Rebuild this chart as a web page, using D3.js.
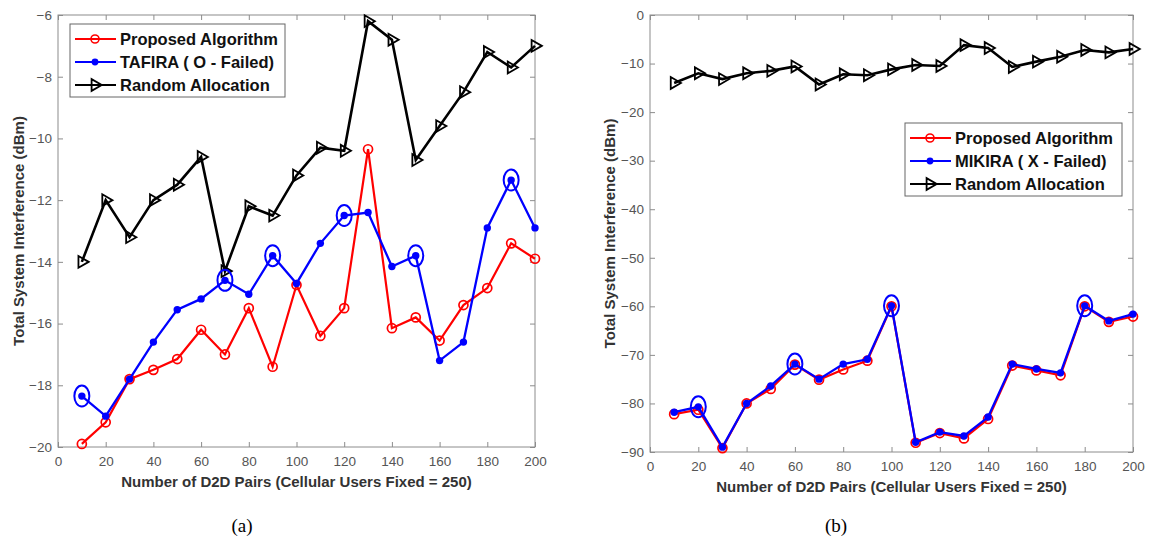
<!DOCTYPE html>
<html>
<head>
<meta charset="utf-8">
<script src="https://cdn.jsdelivr.net/npm/d3@7"></script>
<style>
  body { margin: 0; background: #fff; }
  text { font-family: "Liberation Sans", Arial, sans-serif; }
</style>
</head>
<body>
<script>
// x values shared by both panels
const d2dPairs = [10, 20, 30, 40, 50, 60, 70, 80, 90, 100, 110, 120, 130, 140, 150, 160, 170, 180, 190, 200];

// panel (a)
const proposedA = [-19.9, -19.2, -17.8, -17.5, -17.15, -16.2, -17.0, -15.5, -17.4, -14.75, -16.4, -15.5, -10.35, -16.15, -15.8, -16.55, -15.4, -14.85, -13.4, -13.9];
const tafira = [-18.35, -19.0, -17.8, -16.6, -15.55, -15.2, -14.6, -15.05, -13.8, -14.7, -13.4, -12.5, -12.4, -14.15, -13.8, -17.2, -16.6, -12.9, -11.35, -12.9];
const tafiraFailed = [10, 70, 90, 120, 150, 190];
const randomA = [-14.0, -12.0, -13.2, -12.0, -11.5, -10.6, -14.3, -12.2, -12.5, -11.2, -10.3, -10.4, -6.2, -6.8, -10.7, -9.6, -8.5, -7.2, -7.7, -7.0];
const yTicksA = [-20, -18, -16, -14, -12, -10, -8, -6];

// panel (b)
const proposedB = [-82.2, -81.3, -89.2, -80.0, -77.0, -72.0, -75.1, -73.0, -71.2, -60.0, -88.1, -86.1, -87.2, -83.2, -72.2, -73.2, -74.2, -60.0, -63.2, -62.1];
const mikira = [-81.8, -80.7, -89.0, -80.0, -76.4, -71.9, -75.0, -71.9, -70.9, -59.9, -88.0, -85.9, -86.7, -82.8, -71.9, -72.9, -73.7, -59.9, -63.0, -61.6];
const mikiraFailed = [20, 60, 100, 180];
const randomB = [-14.0, -12.0, -13.2, -12.0, -11.5, -10.6, -14.3, -12.2, -12.4, -11.2, -10.3, -10.5, -6.2, -6.8, -10.7, -9.6, -8.6, -7.2, -7.7, -7.0];
const yTicksB = [-90, -80, -70, -60, -50, -40, -30, -20, -10, 0];

const xTicks = [0, 20, 40, 60, 80, 100, 120, 140, 160, 180, 200];

const W = 1149, H = 537;
const svg = d3.select("body").append("svg")
    .attr("width", W)
    .attr("height", H);

const RED = "#ff0000", BLUE = "#0000ff", BLACK = "#000000";

function drawPanel(p) {
    const x = d3.scaleLinear().domain([0, 200]).range([p.left, p.right]);
    const y = d3.scaleLinear().domain(p.yDomain).range([p.bottom, p.top]);
    const g = svg.append("g");

    // box with inward ticks (matlab style)
    const tickLen = 5;
    const axisColor = "#8c8c8c";
    g.append("rect")
        .attr("x", p.left).attr("y", p.top)
        .attr("width", p.right - p.left).attr("height", p.bottom - p.top)
        .attr("fill", "none").attr("stroke", axisColor).attr("stroke-width", 1);

    const bottomAxis = d3.axisBottom(x).tickValues(xTicks).tickSizeInner(-tickLen).tickSizeOuter(0).tickPadding(9);
    const topAxis = d3.axisTop(x).tickValues(xTicks).tickSizeInner(-tickLen).tickSizeOuter(0).tickFormat("");
    const leftAxis = d3.axisLeft(y).tickValues(p.yTicks).tickSizeInner(-tickLen).tickSizeOuter(0).tickPadding(6);
    const rightAxis = d3.axisRight(y).tickValues(p.yTicks).tickSizeInner(-tickLen).tickSizeOuter(0).tickFormat("");

    const axes = [
        [bottomAxis, `translate(0,${p.bottom})`],
        [topAxis, `translate(0,${p.top})`],
        [leftAxis, `translate(${p.left},0)`],
        [rightAxis, `translate(${p.right},0)`]
    ];
    axes.forEach(([ax, tr]) => {
        const a = g.append("g").attr("transform", tr).call(ax);
        a.select(".domain").remove();
        a.selectAll(".tick line").attr("stroke", axisColor);
        a.selectAll(".tick text")
            .attr("fill", "#555")
            .style("font-size", "13.5px")
            .style("font-family", "Liberation Sans, Arial, sans-serif");
    });

    // axis labels
    g.append("text")
        .attr("x", (p.left + p.right) / 2)
        .attr("y", p.xLabelY)
        .attr("text-anchor", "middle")
        .attr("fill", "#333")
        .style("font-size", "15px")
        .style("font-weight", "bold")
        .text("Number of D2D Pairs (Cellular Users Fixed = 250)");
    g.append("text")
        .attr("transform", `translate(${p.yLabelX},${(p.top + p.bottom) / 2}) rotate(-90)`)
        .attr("text-anchor", "middle")
        .attr("fill", "#333")
        .style("font-size", "15px")
        .style("font-weight", "bold")
        .text("Total System Interference (dBm)");

    // caption
    g.append("text")
        .attr("x", p.captionX).attr("y", 532)
        .attr("text-anchor", "middle")
        .attr("fill", "#000")
        .style("font-family", "Liberation Serif, Times New Roman, serif")
        .style("font-size", "19px")
        .text(p.caption);

    const line = d3.line().x((d, i) => x(d2dPairs[i])).y(d => y(d));
    const tri = d3.symbol().type(d3.symbolTriangle).size(60);

    // random allocation
    g.append("path").datum(p.random)
        .attr("d", line).attr("fill", "none")
        .attr("stroke", BLACK).attr("stroke-width", 2.6);
    g.selectAll(".tri").data(p.random).enter().append("path")
        .attr("d", tri)
        .attr("transform", (d, i) => `translate(${x(d2dPairs[i])},${y(d)}) rotate(90)`)
        .attr("fill", "none").attr("stroke", BLACK).attr("stroke-width", 1.8);

    // proposed
    g.append("path").datum(p.proposed)
        .attr("d", line).attr("fill", "none")
        .attr("stroke", RED).attr("stroke-width", 2.2);
    g.selectAll(".circ").data(p.proposed).enter().append("circle")
        .attr("cx", (d, i) => x(d2dPairs[i])).attr("cy", d => y(d))
        .attr("r", 4.5).attr("fill", "none")
        .attr("stroke", RED).attr("stroke-width", 1.7);

    // baseline (TAFIRA / MIKIRA)
    g.append("path").datum(p.base)
        .attr("d", line).attr("fill", "none")
        .attr("stroke", BLUE).attr("stroke-width", 2.3);
    g.selectAll(".dot").data(p.base).enter().append("circle")
        .attr("cx", (d, i) => x(d2dPairs[i])).attr("cy", d => y(d))
        .attr("r", 3.7).attr("fill", BLUE);

    // failed markers
    g.selectAll(".fail").data(p.failed).enter().append("ellipse")
        .attr("cx", d => x(d))
        .attr("cy", d => y(p.base[d2dPairs.indexOf(d)]))
        .attr("rx", 7.5).attr("ry", 10.5)
        .attr("fill", "none").attr("stroke", BLUE).attr("stroke-width", 2);

    // legend
    const L = p.legend;
    const lg = g.append("g").attr("transform", `translate(${L.x},${L.y})`);
    lg.append("rect")
        .attr("width", L.w).attr("height", 73)
        .attr("fill", "#fff").attr("stroke", "#666").attr("stroke-width", 1);
    const items = [
        { label: "Proposed Algorithm", color: RED, mark: "circle" },
        { label: p.baseLabel, color: BLUE, mark: "dot" },
        { label: "Random Allocation", color: BLACK, mark: "tri" }
    ];
    items.forEach((it, i) => {
        const cy = 15 + i * 23;
        lg.append("line")
            .attr("x1", 5).attr("x2", 46).attr("y1", cy).attr("y2", cy)
            .attr("stroke", it.color).attr("stroke-width", 2.2);
        if (it.mark === "circle") {
            lg.append("circle").attr("cx", 25).attr("cy", cy).attr("r", 4)
                .attr("fill", "none").attr("stroke", it.color).attr("stroke-width", 1.6);
        } else if (it.mark === "dot") {
            lg.append("circle").attr("cx", 25).attr("cy", cy).attr("r", 3.4).attr("fill", it.color);
        } else {
            lg.append("path").attr("d", tri)
                .attr("transform", `translate(25,${cy}) rotate(90)`)
                .attr("fill", "none").attr("stroke", it.color).attr("stroke-width", 1.8);
        }
        lg.append("text")
            .attr("x", 50).attr("y", cy + 6)
            .attr("fill", "#111")
            .style("font-size", "16.5px")
            .style("font-weight", "bold")
            .text(it.label);
    });
}

drawPanel({
    left: 58, right: 535, top: 15, bottom: 447,
    yDomain: [-20, -6], yTicks: yTicksA,
    proposed: proposedA, base: tafira, random: randomA, failed: tafiraFailed,
    baseLabel: "TAFIRA ( O - Failed)",
    legend: { x: 70, y: 24, w: 215 },
    xLabelY: 487, yLabelX: 24, caption: "(a)", captionX: 242
});

drawPanel({
    left: 650, right: 1133, top: 15, bottom: 452,
    yDomain: [-90, 0], yTicks: yTicksB,
    proposed: proposedB, base: mikira, random: randomB, failed: mikiraFailed,
    baseLabel: "MIKIRA ( X - Failed)",
    legend: { x: 905, y: 123, w: 217 },
    xLabelY: 492, yLabelX: 615, caption: "(b)", captionX: 836
});
</script>
</body>
</html>
